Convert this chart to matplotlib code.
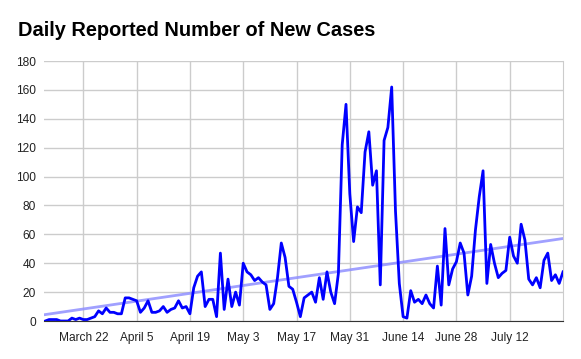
"""Daily reported number of new cases, with a linear trend line."""
import matplotlib
matplotlib.use("Agg")
import matplotlib.pyplot as plt
import numpy as np
import pandas as pd

plt.rcParams["font.family"] = ["Liberation Sans", "DejaVu Sans"]

START = "2020-03-12"
cases = [
    0, 1, 1, 1, 0, 0, 0, 2, 1, 2,          # Mar 12 - 21
    1, 1, 2, 3, 7, 5, 9, 6, 6, 5,          # Mar 22 - 31
    5, 16, 16, 15, 14, 6, 9, 14, 6, 6,     # Apr 1 - 10
    7, 10, 6, 8, 9, 14, 9, 10, 5, 23,      # Apr 11 - 20
    31, 34, 10, 15, 15, 3, 47, 8, 29, 10,  # Apr 21 - 30
    20, 11, 40, 34, 32, 28, 30, 27, 25, 8,  # May 1 - 10
    12, 30, 54, 44, 24, 22, 13, 3, 16, 18,  # May 11 - 20
    20, 13, 30, 15, 34, 20, 12, 33, 122, 150,  # May 21 - 30
    88, 55, 79, 75, 117, 131, 94, 104, 25, 125,  # May 31 - Jun 9
    134, 162, 76, 26, 3, 2, 21, 13, 15, 12,  # Jun 10 - 19
    18, 12, 9, 38, 11, 64, 25, 36, 41, 54,  # Jun 20 - 29
    47, 18, 31, 63, 86, 104, 26, 53, 40, 30,  # Jun 30 - Jul 9
    33, 35, 58, 45, 40, 67, 56, 29, 25, 30,  # Jul 10 - 19
    23, 42, 47, 28, 32, 26, 34,            # Jul 20 - 26
]
tick_labels = ["March 22", "April 5", "April 19", "May 3", "May 17",
               "May 31", "June 14", "June 28", "July 12"]
tick_dates = ["2020-03-22", "2020-04-05", "2020-04-19", "2020-05-03", "2020-05-17",
              "2020-05-31", "2020-06-14", "2020-06-28", "2020-07-12"]

dates = pd.date_range(START, periods=len(cases), freq="D")
y = np.array(cases, dtype=float)

# linear trend (least squares on day index)
t = np.arange(len(y))
slope, icpt = np.polyfit(t, y, 1)
trend = slope * t + icpt

fig = plt.figure(figsize=(5.81, 3.59), dpi=100)
ax = fig.add_axes([44 / 581, 1 - 321 / 359, (563 - 44) / 581, (321 - 61) / 359])

ax.plot(dates, trend, color="#8f8fff", linewidth=2, alpha=0.85, zorder=2)
ax.plot(dates, y, color="#0000ff", linewidth=2, zorder=3)

ax.set_ylim(0, 180)
ax.set_yticks(np.arange(0, 181, 20))
ax.set_xlim(dates[0] - pd.Timedelta(hours=8), dates[-1])
ax.set_xticks(pd.to_datetime(tick_dates))
ax.set_xticklabels(tick_labels)

ax.grid(True, color="#cccccc", linewidth=1)
ax.set_axisbelow(True)
ax.tick_params(length=0, labelsize=8.6, colors="#222222")
ax.tick_params(axis="x", pad=8)
ax.tick_params(axis="y", pad=6)
for s in ["top", "left"]:
    ax.spines[s].set_visible(False)
ax.spines["right"].set_color("#cccccc")
ax.spines["bottom"].set_color("#333333")
ax.spines["bottom"].set_zorder(4)

fig.text(18 / 581, 1 - 31 / 359, "Daily Reported Number of New Cases",
         fontsize=14.4, fontweight="bold", va="center", ha="left", color="#000000")

fig.savefig("out.png", dpi=100)
